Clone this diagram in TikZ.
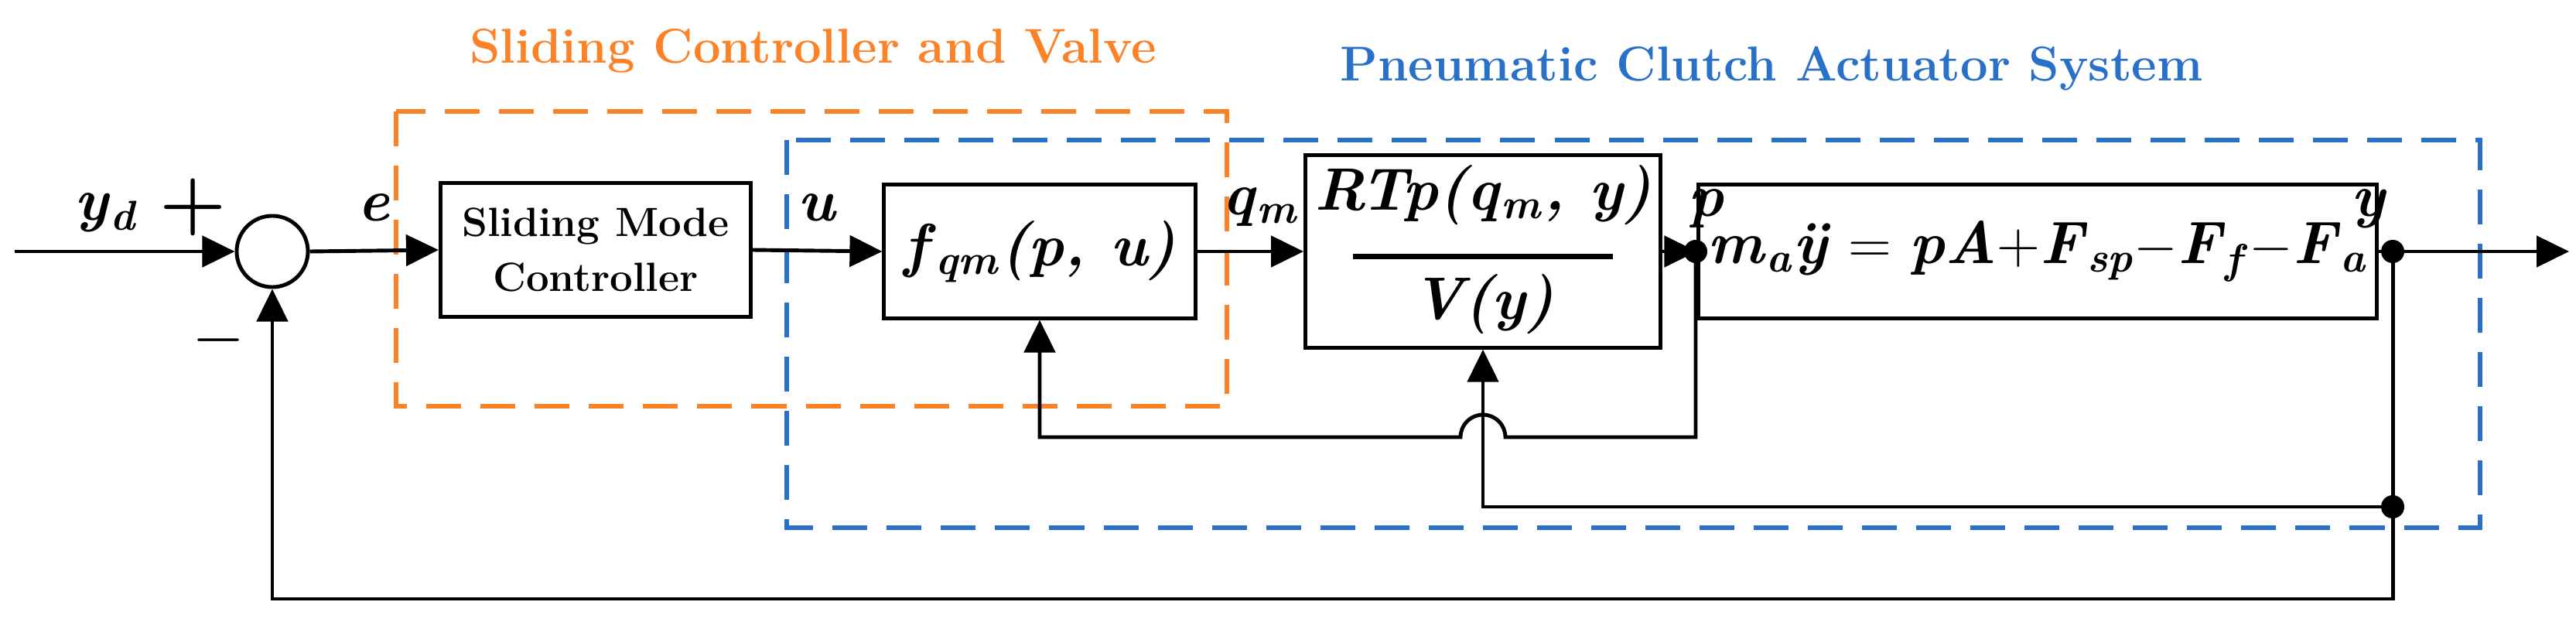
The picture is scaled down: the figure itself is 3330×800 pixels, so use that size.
\documentclass[tikz,border=0pt]{standalone}
\usepackage{fontspec}
\usetikzlibrary{arrows.meta}
\definecolor{valveorange}{RGB}{252,130,40}
\definecolor{clutchblue}{RGB}{40,112,200}
\newcommand\vi[1]{\textbf{\textit{#1}}}
\newcommand\vsub[1]{\textsubscript{\vi{#1}}}
\tikzset{
  blk/.style={draw, line width=1.4pt, rectangle, minimum height=1.72cm, align=center},
  arr/.style={line width=1.4pt, -{Triangle[length=0.42cm,width=0.4cm]}},
  wire/.style={line width=1.4pt},
  jdot/.style={circle, fill=black, inner sep=0pt, minimum size=0.3cm},
  lbl/.style={font=\fontsize{22}{24}\selectfont},
  grp/.style={line width=1.6pt, dash pattern=on 0.45cm off 0.25cm},
}
\begin{document}
\begin{tikzpicture}[x=0.01cm, y=-0.01cm]
    \useasboundingbox (0,0) rectangle (3330,800);

    % groups
    \draw[grp, valveorange] (512,144) rectangle (1586,525);
    \draw[grp, clutchblue] (1017,181) rectangle (3206,682);
    \node[valveorange, font=\bfseries\fontsize{18}{22}\selectfont] (ttlvalve) at (1051,66) {Sliding Controller and Valve};
    \node[clutchblue, font=\bfseries\fontsize{18}{22}\selectfont] (ttlclutch) at (2290,89) {Pneumatic Clutch Actuator System};

    % blocks
    \node[circle, draw, line width=1.4pt, minimum size=0.92cm] (sum) at (352,325) {};
    \node[blk, minimum width=4.01cm, font=\bfseries\fontsize{15}{20}\selectfont] (smc) at (770,323) {Sliding Mode\\Controller};
    \node[blk, minimum width=4.02cm, lbl] (fqm) at (1344,325) {\vi{f}\vsub{qm}\vi{(p, u)}};
    \node[blk, minimum width=4.02cm, lbl] (rtp) at (1917,325)
        {\begin{tabular}{@{}c@{}}\vi{RTp(q}\vsub{m}\vi{, y)}\\[-6pt]\rule{3.35cm}{2pt}\\[-2pt]\vi{V(y)}\end{tabular}};
    \node[blk, minimum width=6.9cm, lbl] (dyn) at (2634,325)
        {\vi{m}\vsub{a}\vi{ÿ} = \vi{pA}+\vi{F}\vsub{sp}$-$\vi{F}\vsub{f}$-$\vi{F}\vsub{a}};

    % junctions
    \node[jdot] (p) at (2192,325) {};
    \node[jdot] (y) at (3093,325) {};
    \node[jdot] (y2) at (3093,655) {};
    \coordinate (in) at (19,325);
    \coordinate (out) at (3321,325);
    \coordinate (jr) at (1946,565);
    \coordinate (bot) at (3093,774);

    % signals
    \draw[arr] (in) -- (sum.west);
    \draw[arr] (sum.east) -- (smc.west);
    \draw[arr] (smc.east) -- (fqm.west);
    \draw[arr] (fqm.east) -- (rtp.west);
    \draw[wire] (rtp.east) -- (p.center);
    \draw[arr] (p.center) -- (dyn.west);
    \draw[arr] (dyn.east) -- (out);
    \draw[arr] (p.center) |- (jr) arc[start angle=0, end angle=180, radius=0.29cm] -| (fqm.south);
    \draw[arr] (y.center) -- (y2.center) -| (rtp.south);
    \draw[arr] (y2.center) -- (bot) -| (sum.south);

    % labels
    \node[lbl] (lyd) at (138,275) {\vi{y}\vsub{d}};
    \node[font=\bfseries\fontsize{28}{30}\selectfont] (lplus) at (250,268) {+};
    \node[font=\bfseries\fontsize{28}{30}\selectfont] (lminus) at (283,440) {$-$};
    \node[lbl] (le) at (483,268) {\vi{e}};
    \node[lbl] (lu) at (1057,268) {\vi{u}};
    \node[lbl] (lqm) at (1630,268) {\vi{q}\vsub{m}};
    \node[lbl] (lp) at (2206,270) {\vi{p}};
    \node[lbl] (ly) at (3062,270) {\vi{y}};
\end{tikzpicture}
\end{document}
